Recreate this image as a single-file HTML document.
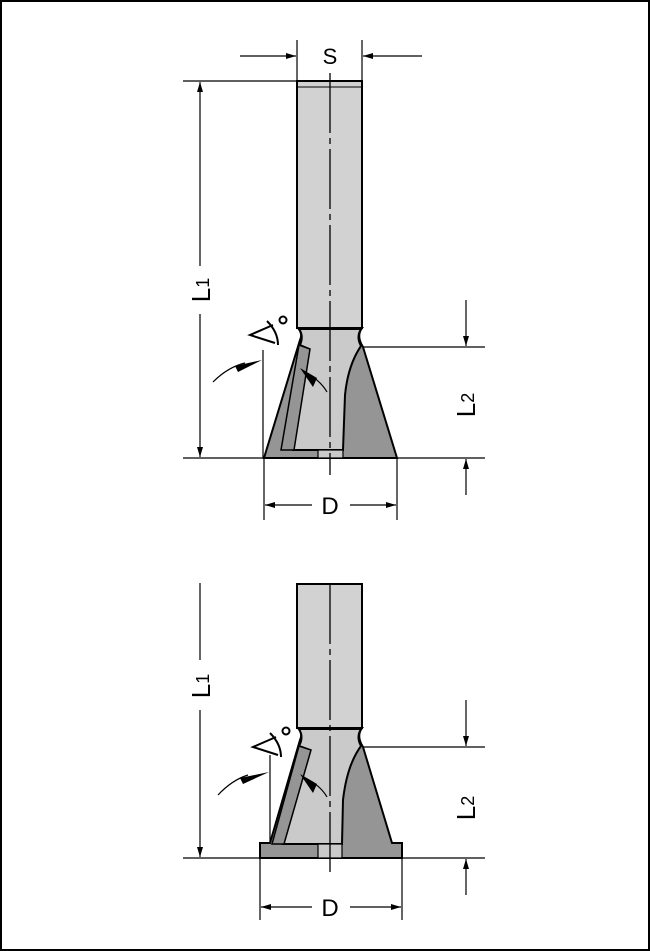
<!DOCTYPE html>
<html><head><meta charset="utf-8"><style>
html,body{margin:0;padding:0;background:#fff}
svg{display:block}
text{font-family:"Liberation Sans",sans-serif;fill:#000}
</style></head><body>
<svg width="650" height="951" viewBox="0 0 650 951" xmlns="http://www.w3.org/2000/svg">
<defs>
<marker id="a" viewBox="0 0 10 6" refX="10" refY="3" markerWidth="12" markerHeight="6" orient="auto" markerUnits="userSpaceOnUse"><path d="M0,0 L10,3 L0,6 Z" fill="#000"/></marker>
</defs>
<rect x="1" y="1" width="648" height="949" fill="none" stroke="#000" stroke-width="2"/>

<!-- ===== TOP TOOL ===== -->
<g stroke="#000" stroke-width="1.2" fill="none">
<line x1="297" y1="40" x2="297" y2="81"/><line x1="362" y1="40" x2="362" y2="81"/>
<line x1="240" y1="56" x2="296" y2="56" marker-end="url(#a)"/>
<line x1="422" y1="56" x2="363" y2="56" marker-end="url(#a)"/>
<line x1="183" y1="81" x2="297" y2="81"/>
<line x1="183" y1="458" x2="264" y2="458"/>
<line x1="200" y1="266" x2="200" y2="82" marker-end="url(#a)"/>
<line x1="200" y1="314" x2="200" y2="457" marker-end="url(#a)"/>
<line x1="363" y1="347" x2="485" y2="347"/>
<line x1="397" y1="458" x2="485" y2="458"/>
<line x1="466" y1="300" x2="466" y2="346" marker-end="url(#a)"/>
<line x1="466" y1="495" x2="466" y2="459" marker-end="url(#a)"/>
<line x1="264" y1="458" x2="264" y2="520"/><line x1="397" y1="458" x2="397" y2="520"/>
<line x1="312" y1="505" x2="265" y2="505" marker-end="url(#a)"/>
<line x1="350" y1="505" x2="396" y2="505" marker-end="url(#a)"/>
<line x1="263" y1="350" x2="263" y2="458"/>
</g>
<rect x="297" y="81" width="65" height="247" fill="#d2d2d2" stroke="#000" stroke-width="2"/>
<line x1="297" y1="87" x2="362" y2="87" stroke="#000" stroke-width="1"/>
<path d="M298,328 L362,328 Q356,336 363,347 L397,458 L264,458 L300,340 Q303,334 298,328 Z" fill="#959595" stroke="#000" stroke-width="2"/>
<path d="M299,329 L361,329 Q356,337 361,346 Q348,365 345,395 L343,450 L293,450 L309,349 L300,345 Q304,336 299,329 Z" fill="#cacaca" stroke="#000" stroke-width="2"/>
<rect x="318" y="450" width="25" height="8" fill="#cacaca" stroke="#000" stroke-width="1.2"/>
<path d="M299,345 L310,349 L294,450 L281,450 Z" fill="#959595" stroke="#000" stroke-width="1.5"/>
<line x1="330" y1="73" x2="330" y2="475" stroke="#000" stroke-width="1.3" stroke-dasharray="60,5,6,5"/>
<path d="M213,382 Q228,367 245,363" fill="none" stroke="#000" stroke-width="1.2"/>
<path d="M235,366 L262,360 L238,372 Z" fill="#000"/>
<path d="M327,392 Q320,380 305,372" fill="none" stroke="#000" stroke-width="1.2"/>
<path d="M317,378 L300,368 L313,387 Z" fill="#000"/>
<text x="210" y="290" font-size="26" text-anchor="middle" transform="rotate(-90 210 290)">L<tspan font-size="18" dy="-1">1</tspan></text>
<text x="475" y="405" font-size="26" text-anchor="middle" transform="rotate(-90 475 405)">L<tspan font-size="18" dy="-1">2</tspan></text>
<text x="330" y="64" font-size="22" text-anchor="middle">S</text>
<text x="330" y="514" font-size="24" text-anchor="middle">D</text>
<g stroke="#000" stroke-width="2" fill="none">
<path d="M273,325 L250,335 L275,343"/><path d="M267,321 Q278,332 278,345"/><circle cx="283" cy="320" r="3.5"/>
</g>

<!-- ===== BOTTOM TOOL ===== -->
<g stroke="#000" stroke-width="1.2" fill="none">
<line x1="183" y1="858" x2="485" y2="858"/>
<line x1="200" y1="583" x2="200" y2="660"/>
<line x1="200" y1="710" x2="200" y2="857" marker-end="url(#a)"/>
<line x1="363" y1="747" x2="485" y2="747"/>
<line x1="466" y1="700" x2="466" y2="746" marker-end="url(#a)"/>
<line x1="466" y1="895" x2="466" y2="859" marker-end="url(#a)"/>
<line x1="260" y1="858" x2="260" y2="920"/><line x1="402" y1="858" x2="402" y2="920"/>
<line x1="312" y1="907" x2="261" y2="907" marker-end="url(#a)"/>
<line x1="350" y1="907" x2="401" y2="907" marker-end="url(#a)"/>
<line x1="270" y1="755" x2="270" y2="843"/>
</g>
<rect x="297" y="584" width="65" height="144" fill="#d2d2d2" stroke="#000" stroke-width="2"/>
<path d="M298,728 L362,728 Q356,736 363,747 L392,843 L402,843 L402,858 L260,858 L260,843 L270,843 L300,740 Q303,734 298,728 Z" fill="#959595" stroke="#000" stroke-width="2"/>
<path d="M299,729 L361,729 Q356,737 361,746 Q347,765 343,800 L342,844 L283,844 L310,750 L299,746 Q304,737 299,729 Z" fill="#cacaca" stroke="#000" stroke-width="2"/>
<rect x="318" y="844" width="24" height="14" fill="#cacaca" stroke="#000" stroke-width="1.2"/>
<path d="M299,746 L311,750 L284,844 L272,844 Z" fill="#959595" stroke="#000" stroke-width="1.5"/>
<line x1="330" y1="584" x2="330" y2="875" stroke="#000" stroke-width="1.3" stroke-dasharray="60,5,6,5"/>
<path d="M218,795 Q232,780 248,775" fill="none" stroke="#000" stroke-width="1.2"/>
<path d="M240,778 L269,772 L243,784 Z" fill="#000"/>
<path d="M327,797 Q320,785 305,778" fill="none" stroke="#000" stroke-width="1.2"/>
<path d="M317,784 L300,774 L313,793 Z" fill="#000"/>
<text x="210" y="686" font-size="26" text-anchor="middle" transform="rotate(-90 210 686)">L<tspan font-size="18" dy="-1">1</tspan></text>
<text x="475" y="808" font-size="26" text-anchor="middle" transform="rotate(-90 475 808)">L<tspan font-size="18" dy="-1">2</tspan></text>
<text x="330" y="916" font-size="24" text-anchor="middle">D</text>
<g stroke="#000" stroke-width="2" fill="none">
<path d="M276,737 L253,747 L278,755"/><path d="M270,733 Q281,744 281,757"/><circle cx="286" cy="731" r="3.5"/>
</g>
</svg>
</body></html>
